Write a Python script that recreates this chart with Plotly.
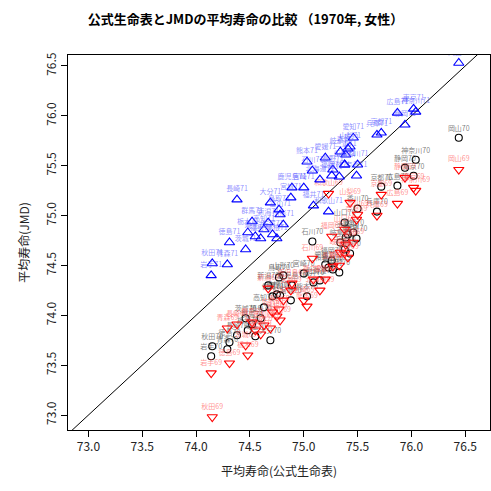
import plotly.graph_objects as go

prefs = ["岡山", "神奈川", "東京", "静岡", "広島", "京都", "兵庫", "香川", "奈良", "愛知",
         "山梨", "大阪", "山口", "三重", "岐阜", "滋賀", "長野", "福岡", "和歌山", "愛媛",
         "石川", "福井", "熊本", "宮崎", "鹿児島", "山形", "富山", "鳥取", "島根", "大分",
         "佐賀", "新潟", "高知", "群馬", "埼玉", "茨城", "栃木", "長崎", "徳島", "青森",
         "秋田", "岩手", "福島", "宮城", "北海道", "千葉"]

official = [76.44, 76.04, 76.02, 75.94, 75.87, 75.72, 75.68, 75.50, 75.49, 75.46,
            75.43, 75.41, 75.38, 75.39, 75.34, 75.33, 75.27, 75.26, 75.23, 75.20,
            75.08, 75.09, 75.03, 75.00, 74.89, 74.81, 74.78, 74.77, 74.75, 74.69,
            74.71, 74.67, 74.63, 74.52, 74.55, 74.46, 74.48, 74.38, 74.31, 74.29,
            74.15, 74.14, 74.60, 74.88, 75.15, 75.38]

jmd_1970 = [75.78, 75.56, 75.40, 75.48, 75.30, 75.29, 75.04, 75.07, 74.77, 74.83,
            74.62, 74.81, 74.93, 74.78, 74.73, 74.43, 74.46, 74.55, 74.48, 74.51,
            74.74, 74.33, 74.19, 74.42, 74.30, 74.40, 74.20, 74.38, 74.21, 73.75,
            74.19, 74.30, 74.08, 73.91, 73.79, 73.97, 73.85, 73.80, 73.73, 73.66,
            73.69, 73.59, 73.97, 74.15, 74.35, 74.66]

jmd_1971 = [76.53, 76.04, 76.07, 75.91, 76.03, 75.83, 75.81, 75.51, 75.40, 75.78,
            75.69, 75.67, 75.51, 75.61, 75.64, 75.39, 75.46, 75.40, 75.04, 75.58,
            75.45, 75.10, 75.54, 75.28, 75.28, 74.91, 75.01, 75.06, 74.77, 75.13,
            74.81, 74.93, 74.86, 74.94, 74.79, 74.66, 74.83, 75.16, 74.73, 74.51,
            74.52, 74.40, 74.77, 75.18, 75.36, 75.51]

jmd_1969 = [75.46, 75.25, 75.28, 75.38, 75.12, 75.21, 75.00, 75.01, 74.96, 74.73,
            75.13, 74.58, 74.86, 74.71, 74.63, 74.50, 74.49, 74.79, 75.22, 74.36,
            74.57, 74.36, 74.09, 74.15, 74.32, 74.15, 73.95, 74.06, 73.99, 73.87,
            74.03, 74.27, 73.90, 73.93, 73.85, 73.70, 73.60, 73.91, 73.52, 73.87,
            72.98, 73.42, 73.81, 74.25, 74.25, 74.62]

tick_vals = [73.0, 73.5, 74.0, 74.5, 75.0, 75.5, 76.0, 76.5]
x_range = [72.81, 76.73]
y_range = [72.85, 76.61]

FONT = "Noto Sans CJK JP"

fig = go.Figure()

# diagonal y = x reference line
lo = min(x_range[0], y_range[0])
hi = max(x_range[1], y_range[1])
fig.add_trace(go.Scatter(x=[lo, hi], y=[lo, hi], mode="lines",
                         line=dict(color="black", width=1), hoverinfo="skip",
                         showlegend=False))

series = [
    (jmd_1970, "70", "circle-open", "black", "rgba(70,70,70,0.7)", 7),
    (jmd_1969, "69", "triangle-down-open", "#ff0000", "rgba(255,70,70,0.6)", 9),
    (jmd_1971, "71", "triangle-up-open", "#0000ff", "rgba(70,70,255,0.6)", 9),
]

for ys, suffix, sym, col, tcol, size in series:
    fig.add_trace(go.Scatter(
        x=official, y=ys, mode="markers+text",
        text=[p + suffix for p in prefs],
        textposition="top center",
        textfont=dict(size=7, color=tcol, family=FONT),
        marker=dict(symbol=sym, size=size, color=col, line=dict(width=1.1, color=col)),
        showlegend=False, cliponaxis=True,
    ))

axis_common = dict(
    showgrid=False, zeroline=False, showline=True, mirror=True,
    linecolor="black", linewidth=1, ticks="outside", ticklen=6,
    tickcolor="black", tickvals=tick_vals, automargin=False,
    ticktext=[f"{v:.1f}" for v in tick_vals],
    tickfont=dict(size=12, color="#222222", family=FONT),
)

fig.update_layout(
    width=491, height=491,
    margin=dict(l=68, r=1, t=55, b=61),
    paper_bgcolor="white", plot_bgcolor="white",
    title=dict(text="<b>公式生命表とJMDの平均寿命の比較 （1970年, 女性）</b>",
               x=0.5, xanchor="center", y=0.96, yanchor="middle",
               font=dict(size=13, color="black", family=FONT)),
    xaxis=dict(range=x_range, title=dict(text="平均寿命(公式生命表)", standoff=14,
               font=dict(size=12, color="#222222", family=FONT)), **axis_common),
    yaxis=dict(range=y_range, tickangle=-90,
               title=dict(text="平均寿命(JMD)", standoff=10,
                          font=dict(size=12, color="#222222", family=FONT)), **axis_common),
)

fig.write_html("out.html",
               config={"displayModeBar": False},
               post_script="document.body.style.margin='0';document.body.style.padding='0';")
